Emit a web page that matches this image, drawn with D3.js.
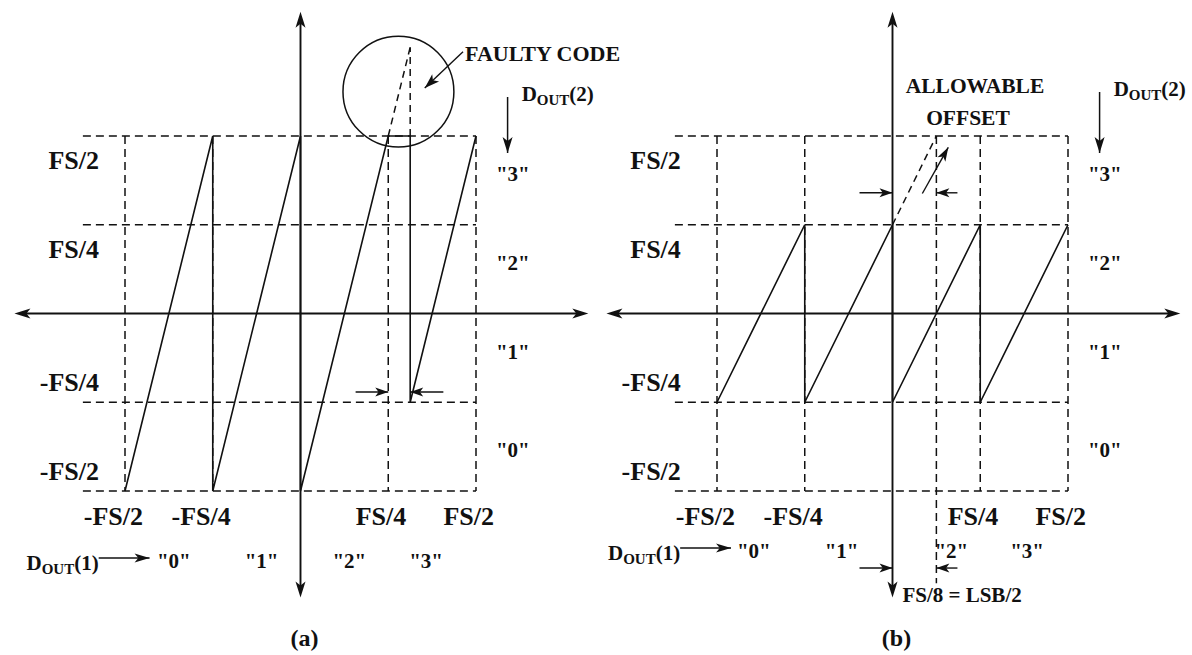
<!DOCTYPE html>
<html>
<head>
<meta charset="utf-8">
<script src="https://cdn.jsdelivr.net/npm/d3@7"></script>
<style>
  body { margin: 0; background: #fff; }
  svg { display: block; }
  text { font-family: "Liberation Serif", Tinos, "Times New Roman", Times, serif; font-weight: bold; fill: #111; }
</style>
</head>
<body>
<svg id="chart" width="1192" height="655"></svg>
<script>
// Output codes of a 2-bit pipeline stage
const codes = ["0", "1", "2", "3"];
// Decision / reference levels, in units of full scale FS
const levels = [-0.5, -0.25, 0.25, 0.5];
const levelLabels = ["-FS/2", "-FS/4", "FS/4", "FS/2"];

// (a) residue of a gain-4 stage whose third comparator fires late (at 5FS/16)
const residueA = [[-0.5, -0.5], [-0.25, 0.5], [-0.25, -0.5], [0, 0.5], [0, -0.5],
                  [0.25, 0.5], [0.3125, 0.5], [0.3125, -0.25], [0.5, 0.5]];
const overshootA = [[0.25, 0.5], [0.3125, 0.75]];
const lateEdgeA = [[0.3125, 0.5], [0.3125, 0.75]];

// (b) residue of a gain-2 stage, held within ±FS/4
const residueB = [[-0.5, -0.25], [-0.25, 0.25], [-0.25, -0.25], [0, 0.25], [0, -0.25],
                  [0.25, 0.25], [0.25, -0.25], [0.5, 0.25]];
// segment 2 extended until it reaches FS/2 at the allowable offset
const overshootB = [[0, 0.25], [0.125, 0.5]];
const overshootArrowB = [[0.085, 0.338], [0.159, 0.468]];
const allowableOffset = 0.125;   // FS/8 = LSB/2

const svg = d3.select("#chart");
svg.append("rect").attr("width", 1192).attr("height", 655).attr("fill", "#fff");

const INK = "#111";
const DASH = "8,5";

function arrowHead(g, from, tip, len, hw) {
  const dx = tip[0] - from[0], dy = tip[1] - from[1];
  const L = Math.hypot(dx, dy), ux = dx / L, uy = dy / L;
  const bx = tip[0] - ux * len, by = tip[1] - uy * len;
  const nx = -uy * hw, ny = ux * hw;
  g.append("path")
    .attr("d", `M${tip[0]},${tip[1]}L${bx + nx},${by + ny}L${bx + ux * len * 0.25},${by + uy * len * 0.25}L${bx - nx},${by - ny}Z`)
    .attr("fill", INK);
}
function arrow(g, from, tip, len = 13, hw = 4.5, width = 1.5) {
  g.append("line").attr("x1", from[0]).attr("y1", from[1]).attr("x2", tip[0]).attr("y2", tip[1])
    .attr("stroke", INK).attr("stroke-width", width);
  arrowHead(g, from, tip, len, hw);
}

function doutLabel(g, x, y, digit, anchor) {
  const t = g.append("text").attr("x", x).attr("y", y).attr("font-size", 21).attr("text-anchor", anchor || "start");
  t.append("tspan").text("D");
  t.append("tspan").attr("font-size", 15).attr("dy", 4).text("OUT");
  t.append("tspan").attr("dy", -4).text(`(${digit})`);
  return t;
}

function drawPanel(cfg) {
  const g = svg.append("g");
  const x = d3.scaleLinear().domain([-0.5, 0.5]).range(cfg.xRange);
  const y = d3.scaleLinear().domain([-0.5, 0.5]).range([491, 136]);
  const line = d3.line().x(d => x(d[0])).y(d => y(d[1]));

  // dashed grid of decision levels
  g.selectAll(null).data(levels).join("line")
    .attr("x1", x(-0.62)).attr("x2", x(0.5))
    .attr("y1", d => y(d)).attr("y2", d => y(d))
    .attr("stroke", INK).attr("stroke-width", 1.5).attr("stroke-dasharray", DASH);
  g.selectAll(null).data(levels).join("line")
    .attr("x1", d => x(d)).attr("x2", d => x(d))
    .attr("y1", y(0.5)).attr("y2", y(-0.5))
    .attr("stroke", INK).attr("stroke-width", 1.5).attr("stroke-dasharray", DASH);

  // axes with arrowheads at both ends
  const x0 = x(0), y0 = y(0);
  const xl = x(-0.815), xr = x(0.82), yt = y(0.85), yb = y(-0.8);
  g.append("line").attr("x1", xl + 6).attr("x2", xr - 6).attr("y1", y0).attr("y2", y0)
    .attr("stroke", INK).attr("stroke-width", 1.9);
  arrowHead(g, [x0, y0], [xl, y0], 16, 5);
  arrowHead(g, [x0, y0], [xr, y0], 16, 5);
  g.append("line").attr("x1", x0).attr("x2", x0).attr("y1", yt + 6).attr("y2", yb - 6)
    .attr("stroke", INK).attr("stroke-width", 1.9);
  arrowHead(g, [x0, y0], [x0, yt], 16, 5);
  arrowHead(g, [x0, y0], [x0, yb], 16, 5);

  // residue curve
  g.append("path").attr("d", line(cfg.residue)).attr("fill", "none")
    .attr("stroke", INK).attr("stroke-width", 1.6).attr("stroke-linejoin", "miter");

  // level labels on the left
  g.selectAll(null).data(levels).join("text")
    .attr("x", x(cfg.yLabelX)).attr("text-anchor", "end").attr("font-size", 26)
    .attr("y", d => y(d) + (d > 0 ? 33 : -11))
    .text((d, i) => levelLabels[i]);

  // input levels below the grid
  g.selectAll(null).data(levels).join("text")
    .attr("x", d => x(d) + 18).attr("y", 525).attr("text-anchor", "end").attr("font-size", 26)
    .text((d, i) => levelLabels[i]);

  // second-stage codes down the right side
  const bandMid = codes.map((c, i) => -0.375 + i * 0.25);
  g.selectAll(null).data(codes).join("text")
    .attr("x", x(0.605)).attr("text-anchor", "middle").attr("font-size", 21)
    .attr("y", (d, i) => y(bandMid[i]) + (i === 0 ? 10 : 1))
    .text(d => `"${d}"`);
  doutLabel(g, x(0.63), cfg.dout2Y, 2);
  arrow(g, [x(0.59), cfg.dout2Y - 4], [x(0.59), 153], 16, 5, 1.5);

  // first-stage codes along the bottom
  const colMid = codes.map((c, i) => -0.375 + i * 0.25);
  g.selectAll(null).data(codes).join("text")
    .attr("x", (d, i) => x(colMid[i]) + cfg.codeShift[i]).attr("y", cfg.dout1Y)
    .attr("text-anchor", "middle").attr("font-size", 21)
    .text(d => `"${d}"`);
  doutLabel(g, x(cfg.dout1End), cfg.dout1Y + 2, 1, "end");
  arrow(g, [x(cfg.dout1End), cfg.dout1Y - 10], [x(cfg.dout1End + 0.145), cfg.dout1Y - 10], 15, 4.5, 1.5);

  // panel caption
  g.append("text").attr("x", x0 + 4).attr("y", 646).attr("text-anchor", "middle")
    .attr("font-size", 24).text(cfg.caption);

  return { g, x, y, line };
}

// ---------- (a) ----------
const A = drawPanel({ xRange: [125, 476], residue: residueA, yLabelX: -0.574, caption: "(a)",
                      dout2Y: 101, dout1Y: 568, dout1End: -0.575, codeShift: [5, 5, 5, -6] });
A.g.append("path").attr("d", A.line(overshootA)).attr("fill", "none")
  .attr("stroke", INK).attr("stroke-width", 1.5).attr("stroke-dasharray", "7,5");
A.g.append("path").attr("d", A.line(lateEdgeA)).attr("fill", "none")
  .attr("stroke", INK).attr("stroke-width", 1.5).attr("stroke-dasharray", "7,5");
// circle around the faulty code
A.g.append("circle").attr("cx", A.x(0.279)).attr("cy", A.y(0.625))
  .attr("r", A.x(0.158) - A.x(0)).attr("fill", "none").attr("stroke", INK).attr("stroke-width", 1.5);
arrow(A.g, [A.x(0.463), A.y(0.737)], [A.x(0.354), A.y(0.635)], 15, 5, 1.4);
A.g.append("text").attr("x", A.x(0.469)).attr("y", 61).attr("font-size", 22).text("FAULTY CODE");
// comparator offset markers
const dimYA = A.y(-0.221);
arrow(A.g, [A.x(0.157), dimYA], [A.x(0.25), dimYA], 13, 4.5, 1.4);
arrow(A.g, [A.x(0.407), dimYA], [A.x(lateEdgeA[0][0]), dimYA], 13, 4.5, 1.4);

// ---------- (b) ----------
const B = drawPanel({ xRange: [717, 1068], residue: residueB, yLabelX: -0.603, caption: "(b)",
                      dout2Y: 96, dout1Y: 558, dout1End: -0.605, codeShift: [-7, -7, 15, 3] });
B.g.append("path").attr("d", B.line(overshootB)).attr("fill", "none")
  .attr("stroke", INK).attr("stroke-width", 1.5).attr("stroke-dasharray", "7,5");
arrow(B.g, [B.x(overshootArrowB[0][0]), B.y(overshootArrowB[0][1])],
           [B.x(overshootArrowB[1][0]), B.y(overshootArrowB[1][1])], 14, 4.5, 1.4);
// FS/8 marker line, stopping just above its label
B.g.append("line").attr("x1", B.x(allowableOffset)).attr("x2", B.x(allowableOffset))
  .attr("y1", B.y(0.5)).attr("y2", B.y(-0.76))
  .attr("stroke", INK).attr("stroke-width", 1.5).attr("stroke-dasharray", DASH);
const dimYB1 = B.y(0.34), dimYB2 = B.y(-0.717);
[dimYB1, dimYB2].forEach(yy => {
  arrow(B.g, [B.x(-0.094), yy], [B.x(0), yy], 13, 4.5, 1.4);
  arrow(B.g, [B.x(0.185), yy], [B.x(allowableOffset), yy], 13, 4.5, 1.4);
});
B.g.append("text").attr("x", B.x(0.235)).attr("y", 93).attr("text-anchor", "middle")
  .attr("font-size", 21.5).text("ALLOWABLE");
B.g.append("text").attr("x", B.x(0.215)).attr("y", 125).attr("text-anchor", "middle")
  .attr("font-size", 21.5).text("OFFSET");
B.g.append("text").attr("x", B.x(allowableOffset) - 34).attr("y", 602)
  .attr("font-size", 21).text("FS/8 = LSB/2");
</script>
</body>
</html>
